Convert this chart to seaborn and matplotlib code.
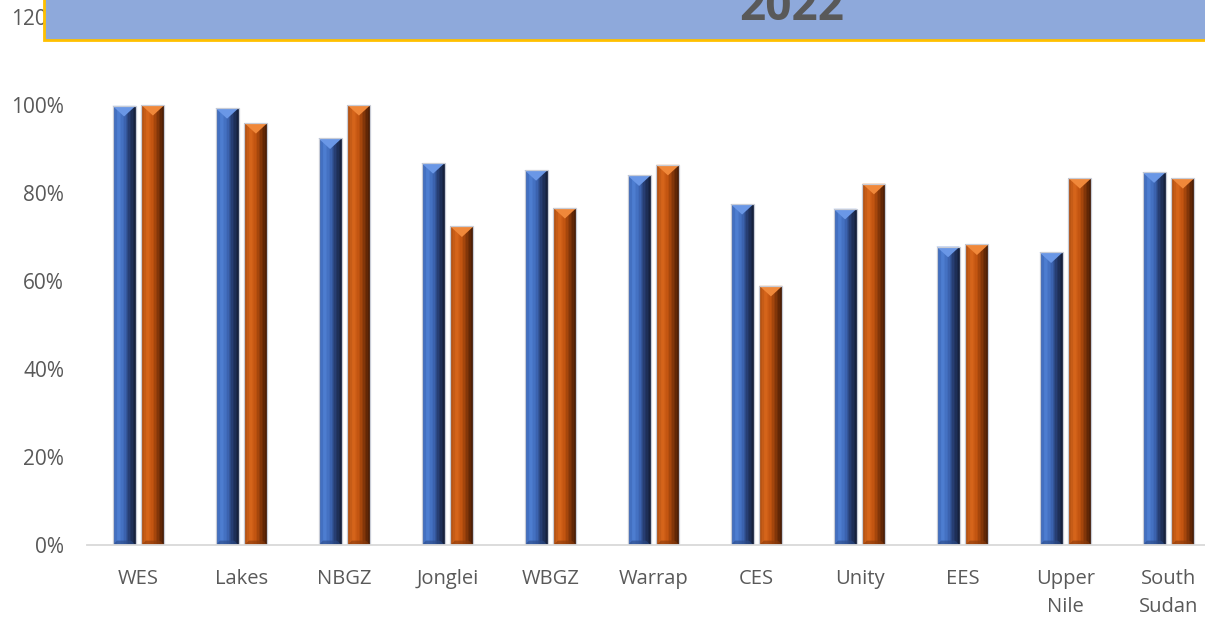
import numpy as np
import pandas as pd
import seaborn as sns
import matplotlib.pyplot as plt
from matplotlib.colors import LinearSegmentedColormap
from matplotlib.patches import Polygon, Rectangle

regions = ['WES', 'Lakes', 'NBGZ', 'Jonglei', 'WBGZ', 'Warrap', 'CES', 'Unity',
           'EES', 'Upper\nNile', 'South\nSudan']
series_names = ['Series 1', 'Series 2']
blue_vals = [99.8, 99.3, 92.4, 86.8, 85.2, 84.0, 77.5, 76.4, 67.8, 66.5, 84.7]
orange_vals = [100.0, 95.9, 100.0, 72.4, 76.6, 86.4, 58.9, 82.1, 68.3, 83.4, 83.4]
yticks = [0, 20, 40, 60, 80, 100, 120]
title = '2022'

df = pd.DataFrame({
    'region': regions * 2,
    'value': blue_vals + orange_vals,
    'series': [series_names[0]] * len(regions) + [series_names[1]] * len(regions),
})

sns.set_style('white')
plt.rcParams['font.family'] = ['Open Sans', 'DejaVu Sans']
grey = '#595959'

fig = plt.figure(figsize=(12.05, 6.18), dpi=100)
ax = fig.add_axes([87 / 1205, 1 - 545 / 618, 1133 / 1205, 528 / 618])

sns.barplot(data=df, x='region', y='value', hue='series',
            palette=['#4472C4', '#C55A11'], width=0.56, gap=0.2,
            legend=False, ax=ax, edgecolor='none', linewidth=0)

# bevelled look: horizontal gradient strips + light triangle on top of each bar
cmaps = [
    LinearSegmentedColormap.from_list('b', ['#2F56A0', '#4F80D4', '#3E68B8', '#24396A', '#141E38']),
    LinearSegmentedColormap.from_list('o', ['#A84B0E', '#D8661C', '#C0530F', '#7A3208', '#3A1604']),
]
tops = ['#6A97E6', '#F0883A']
bottoms = ['#2A4A88', '#8A3A0A']
n_strips = 16
for i, cont in enumerate(ax.containers):
    for bar in cont:
        x0, w, h = bar.get_x(), bar.get_width(), bar.get_height()
        sw = w / n_strips
        for k in range(n_strips):
            ax.add_patch(Rectangle((x0 + k * sw, 0), sw * (1.15 if k < n_strips - 1 else 1), h,
                                   facecolor=cmaps[i]((k + 0.5) / n_strips), edgecolor='none',
                                   linewidth=0, zorder=bar.zorder + 0.1))
        ax.add_patch(Polygon([(x0, h), (x0 + w, h), (x0 + w / 2, h - 2.4)],
                             closed=True, facecolor=tops[i], edgecolor='none',
                             zorder=bar.zorder + 0.2))
        ax.add_patch(Polygon([(x0, 0), (x0 + w, 0), (x0 + w * 0.8, 1.0), (x0 + w * 0.2, 1.0)],
                             closed=True, facecolor=bottoms[i], edgecolor='none',
                             alpha=0.6, zorder=bar.zorder + 0.2))
        ax.add_patch(Rectangle((x0, 0), w, h, facecolor='none', edgecolor='#C8CCD6',
                               linewidth=0.9, zorder=bar.zorder + 0.3))

ax.set_xlim(-0.5, len(regions) - 0.5)
ax.set_ylim(0, 120)
ax.set_yticks(yticks)
ax.set_yticklabels([f'{v}%' for v in yticks])
ax.set_xticks(range(len(regions)))
ax.set_xticklabels(regions, linespacing=1.55)
ax.set_xlabel('')
ax.set_ylabel('')
ax.tick_params(axis='y', length=0, pad=16.5, labelsize=15, labelcolor=grey)
ax.tick_params(axis='x', length=0, pad=17, labelsize=14.5, labelcolor=grey)
for s in ['top', 'right', 'left']:
    ax.spines[s].set_visible(False)
ax.spines['bottom'].set_color('#D9D9D9')
ax.spines['bottom'].set_linewidth(1.3)
ax.grid(False)

# title box overlapping the top of the chart
box = Rectangle((44 / 1205, 1 - 40 / 618), 1.0, 0.2, transform=fig.transFigure,
                facecolor='#8EA9DB', edgecolor='#FFC000', linewidth=2, zorder=5)
fig.patches.append(box)
fig.text(792 / 1205, 1 - 20 / 618, title, ha='center', va='baseline',
         fontsize=33, fontweight='bold', color=grey, zorder=6)

fig.savefig('out.png', dpi=100)
